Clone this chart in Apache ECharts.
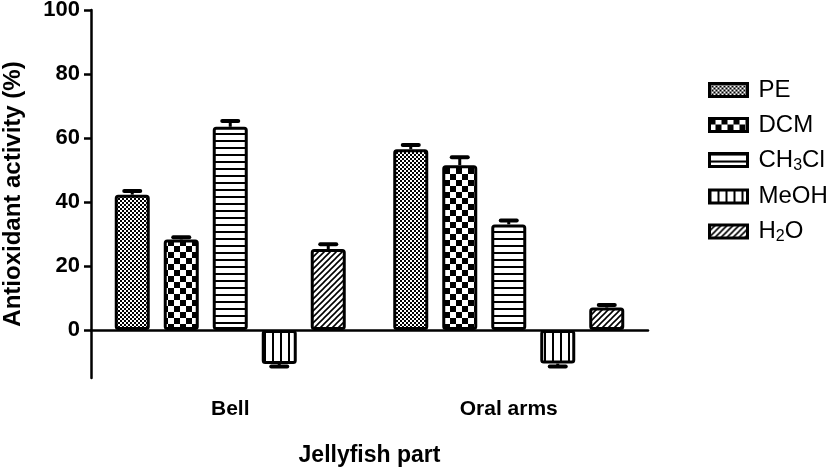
<!DOCTYPE html>
<html>
<head>
<meta charset="utf-8">
<script src="https://cdn.jsdelivr.net/npm/echarts@6/dist/echarts.min.js"></script>
<style>
  html, body { margin: 0; padding: 0; background: #fff; }
  #chart { width: 827px; height: 469px; }
</style>
</head>
<body>
<div id="chart"></div>
<script>
// categories and values
const parts = ['Bell', 'Oral arms']
const solvents = ['PE', 'DCM', 'CH3Cl', 'MeOH', 'H2O']
const means = {
  PE: [42.3, 56.5],
  DCM: [28.3, 51.5],
  CH3Cl: [63.5, 33.0],
  MeOH: [-10.6, -10.5],
  H2O: [25.3, 7.0],
}
const errors = {
  PE: [1.1, 1.3],
  DCM: [0.7, 2.5],
  CH3Cl: [1.8, 1.2],
  MeOH: [0.8, 0.9],
  H2O: [1.5, 0.8],
}
const yTicks = [0, 20, 40, 60, 80, 100]

const BAR_W = 35
const BAR_GAP = 14
const FONT = '"Liberation Sans", Arial, sans-serif'

// black & white fill patterns
const makePattern = (kind) => {
  const c = document.createElement('canvas')
  const ctx = c.getContext('2d')
  const tile = (w, h) => {
    c.width = w
    c.height = h
    ctx.fillStyle = '#fff'
    ctx.fillRect(0, 0, w, h)
    ctx.fillStyle = '#000'
  }
  if (kind === 'PE') {
    tile(4, 4)
    ctx.fillRect(0, 0, 2, 2)
    ctx.fillRect(2, 2, 2, 2)
  } else if (kind === 'DCM') {
    tile(12, 12)
    ctx.fillRect(0, 0, 6, 6)
    ctx.fillRect(6, 6, 6, 6)
  } else if (kind === 'CH3Cl') {
    tile(7, 7)
    ctx.fillRect(0, 0, 7, 2)
  } else if (kind === 'MeOH') {
    tile(8, 8)
    ctx.fillRect(0, 0, 2, 8)
  } else {
    tile(6, 6)
    ctx.strokeStyle = '#000'
    ctx.lineWidth = 1.6
    ctx.beginPath()
    ctx.moveTo(-1, 7); ctx.lineTo(7, -1)
    ctx.moveTo(-1, 1); ctx.lineTo(1, -1)
    ctx.moveTo(5, 7); ctx.lineTo(7, 5)
    ctx.stroke()
  }
  return { image: c, repeat: 'repeat' }
}

const barSeries = solvents.map(s => ({
  name: s,
  type: 'bar',
  barWidth: BAR_W,
  barGap: (BAR_GAP / BAR_W * 100) + '%',
  data: means[s],
  itemStyle: {
    color: makePattern(s),
    borderColor: '#000',
    borderWidth: 3,
    borderRadius: 2,
  },
}))

const errData = []
solvents.forEach((s, si) => {
  parts.forEach((p, ci) => {
    errData.push([ci, si, means[s][ci], errors[s][ci]])
  })
})

const errSeries = {
  name: 'err',
  type: 'custom',
  z: 5,
  data: errData,
  renderItem: (params, api) => {
    const ci = api.value(0)
    const si = api.value(1)
    const v = api.value(2)
    const e = api.value(3)
    const sign = v < 0 ? -1 : 1
    const x = api.coord([ci, 0])[0] + (si - 2) * (BAR_W + BAR_GAP)
    const y0 = api.coord([ci, v])[1]
    const y1 = api.coord([ci, v + sign * e])[1]
    const style = { stroke: '#000', lineWidth: 4, lineCap: 'round' }
    return {
      type: 'group',
      children: [
        { type: 'line', shape: { x1: x, y1: y0, x2: x, y2: y1 }, style: { stroke: '#000', lineWidth: 3 } },
        { type: 'line', shape: { x1: x - 8, y1: y1, x2: x + 8, y2: y1 }, style },
      ],
    }
  },
}

const chart = echarts.init(document.getElementById('chart'), null, { renderer: 'canvas' })
chart.setOption({
  backgroundColor: '#fff',
  animation: false,
  textStyle: { fontFamily: FONT },
  grid: { left: 91, right: 179, top: 10, bottom: 91, containLabel: false, outerBoundsMode: 'none' },
  legend: {
    orient: 'vertical',
    left: 703,
    top: 73,
    data: solvents,
    itemWidth: 38,
    itemHeight: 13,
    itemGap: 11,
    icon: 'rect',
    itemStyle: { borderColor: '#000', borderWidth: 3 },
    textStyle: {
      fontFamily: FONT,
      fontSize: 24,
      color: '#000',
      padding: [0, 0, 0, 6],
      rich: {
        sub: { fontFamily: FONT, fontSize: 16, color: '#000', padding: [11, 0, 0, 0] },
      },
    },
    formatter: name => {
      if (name === 'CH3Cl') return 'CH{sub|3}Cl'
      if (name === 'H2O') return 'H{sub|2}O'
      return name
    },
  },
  xAxis: {
    type: 'category',
    data: parts,
    name: 'Jellyfish part',
    nameLocation: 'middle',
    nameGap: 66,
    nameTextStyle: { fontFamily: FONT, fontSize: 23, fontWeight: 'bold', color: '#000' },
    axisLine: { onZero: true, lineStyle: { color: '#000', width: 2.5 } },
    axisTick: { alignWithLabel: true, length: 7, lineStyle: { color: '#000', width: 2.5 } },
    axisLabel: { margin: 21, fontFamily: FONT, fontSize: 21, fontWeight: 'bold', color: '#000' },
  },
  yAxis: {
    type: 'value',
    min: -15,
    max: 100,
    name: 'Antioxidant activity (%)',
    nameLocation: 'middle',
    nameGap: 66,
    nameTextStyle: { fontFamily: FONT, fontSize: 24, fontWeight: 'bold', color: '#000' },
    splitLine: { show: false },
    axisLine: { show: true, lineStyle: { color: '#000', width: 2.5 } },
    axisTick: { show: true, length: 7, customValues: yTicks, lineStyle: { color: '#000', width: 2.5 } },
    axisLabel: { margin: 11, customValues: yTicks, fontFamily: FONT, fontSize: 22, fontWeight: 'bold', color: '#000' },
  },
  series: [...barSeries, errSeries],
})
</script>
</body>
</html>
